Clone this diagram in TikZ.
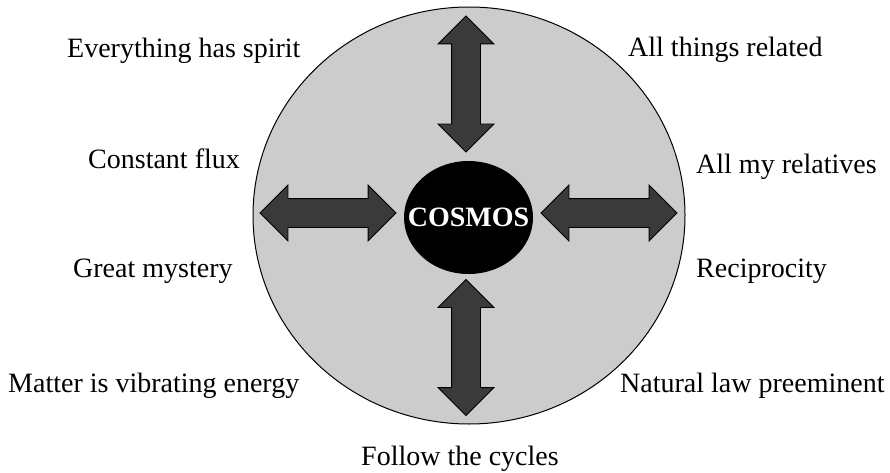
\documentclass[tikz,border=0pt]{standalone}
\usepackage{fontspec}
\setmainfont{Liberation Serif}
\usetikzlibrary{shapes.geometric,shapes.arrows}
\definecolor{CosmosRing}{HTML}{CCCCCC}
\definecolor{CosmosArrow}{HTML}{3A3A3A}

\begin{document}
\begin{tikzpicture}[
    x=1pt,y=-1pt,
    font=\fontsize{28}{32}\selectfont,
    dblarrow/.style={double arrow,draw=black,fill=CosmosArrow,line width=0.8pt,inner xsep=0pt,inner ysep=14pt,
      minimum width=55pt,minimum height=136pt,double arrow head extend=13.5pt,double arrow tip angle=90},
    lbl/.style={inner sep=0pt,anchor=base west}
  ]
  \useasboundingbox (0,0) rectangle (890,473);
  \node[ellipse,draw=black,fill=CosmosRing,line width=1pt,minimum width=432pt,minimum height=417pt,inner sep=0pt] (world) at (469,215.5) {};
  \node[ellipse,fill=black,text=white,font=\fontsize{28}{32}\selectfont\bfseries,minimum width=129pt,minimum height=113pt,inner xsep=-16pt,inner ysep=0pt] (cosmos) at (468.5,217.5) {COSMOS};
  % the four double arrows
  \node[dblarrow,rotate=90] (arrN) at (466,84) {};
  \node[dblarrow,rotate=90] (arrS) at (466,347.5) {};
  \node[dblarrow] (arrW) at (328,213) {};
  \node[dblarrow] (arrE) at (609,213) {};
  % labels
  \node[lbl] (spirit) at (67,57.3) {Everything has spirit};
  \node[lbl] (related) at (628,57) {All things related};
  \node[lbl] (flux) at (88,168) {Constant flux};
  \node[lbl] (relatives) at (696,173) {All my relatives};
  \node[lbl] (mystery) at (73,277) {Great mystery};
  \node[lbl] (reciprocity) at (696,277) {Reciprocity};
  \node[lbl] (matter) at (8,392) {Matter is vibrating energy};
  \node[lbl] (natural) at (620,392) {Natural law preeminent};
  \node[lbl] (cycles) at (361,465) {Follow the cycles};
\end{tikzpicture}
\end{document}
